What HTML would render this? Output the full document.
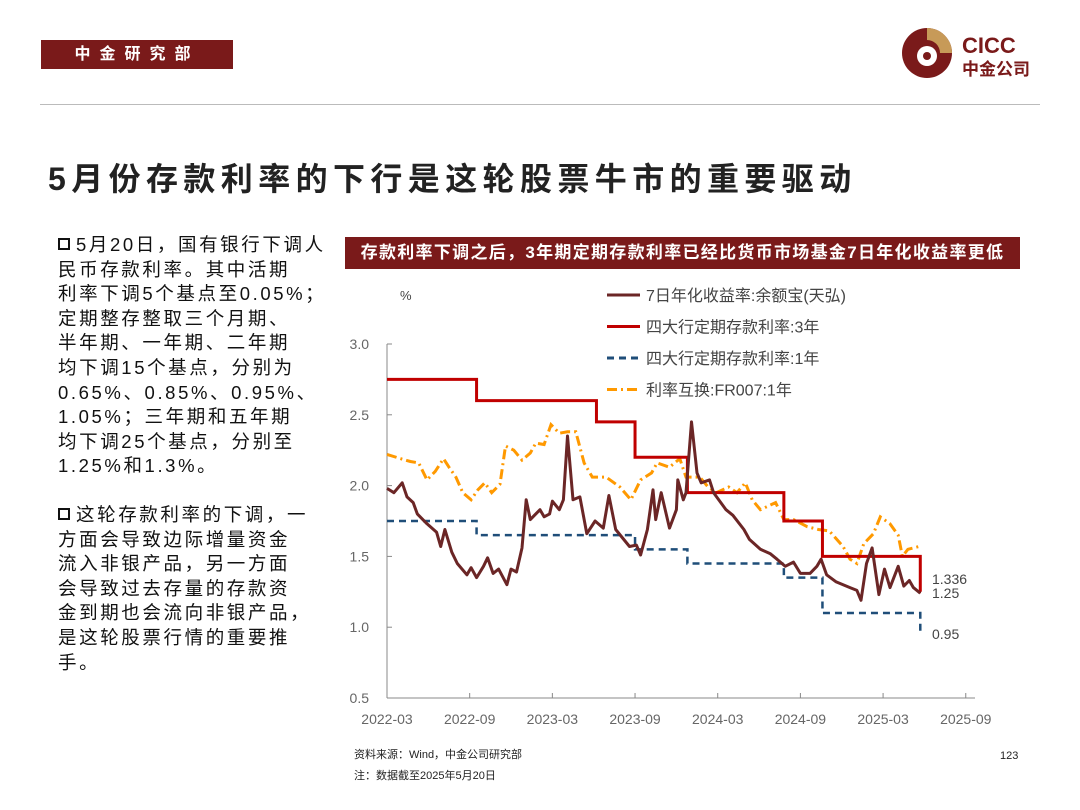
<!DOCTYPE html>
<html><head><meta charset="utf-8">
<style>
body{margin:0;background:#fff;}
#page{position:relative;width:1080px;height:810px;overflow:hidden;background:#fff;font-family:"Liberation Sans","Noto Sans CJK SC",sans-serif;}
.abs{position:absolute;}
#hdr{left:41px;top:40px;width:192px;height:29px;background:#7a1a1a;color:#fff;font-size:16px;font-weight:bold;letter-spacing:9px;line-height:29px;text-align:center;}
#rule{left:40px;top:104px;width:1000px;height:1px;background:#bbb;}
#title{left:48px;top:154px;font-size:32px;font-weight:bold;color:#222;letter-spacing:5.4px;white-space:nowrap;}
.bul{left:58px;width:290px;font-size:18.5px;letter-spacing:2.6px;line-height:24.6px;color:#111;white-space:nowrap;}
.sq{display:inline-block;width:8px;height:8px;border:2px solid #111;margin-right:6px;vertical-align:1px;}
#ctitle{left:345px;top:237px;width:675px;height:32px;background:#7a1a1a;color:#fff;font-size:17px;letter-spacing:1.3px;font-weight:bold;line-height:32px;text-align:center;white-space:nowrap;}
.foot{left:354px;font-size:11px;color:#222;}
</style></head><body>
<div id="page">
<div class="abs" id="hdr">中金研究部</div>
<div class="abs" style="left:900px;top:27px;width:150px;height:56px;">
<svg width="150" height="56">
<circle cx="27" cy="26" r="25" fill="#7a1a1a"/>
<path d="M27 1 A25 25 0 0 1 52 26 L40 26 A13 13 0 0 0 27 13 Z" fill="#c79a58"/>
<circle cx="27" cy="29" r="10" fill="#fff"/>
<circle cx="27" cy="29" r="4" fill="#7a1a1a"/>
<text x="62" y="26" font-size="22" font-weight="bold" fill="#7a1a1a" font-family="Liberation Sans">CICC</text>
<text x="62" y="48" font-size="17" font-weight="bold" fill="#7a1a1a" font-family="Noto Sans CJK SC">中金公司</text>
</svg></div>
<div class="abs" id="rule"></div>
<div class="abs" id="title">5月份存款利率的下行是这轮股票牛市的重要驱动</div>
<div class="abs bul" style="top:233px;"><span class="sq"></span>5月20日，国有银行下调人<br>民币存款利率。其中活期<br>利率下调5个基点至0.05%；<br>定期整存整取三个月期、<br>半年期、一年期、二年期<br>均下调15个基点，分别为<br>0.65%、0.85%、0.95%、<br>1.05%；三年期和五年期<br>均下调25个基点，分别至<br>1.25%和1.3%。</div>
<div class="abs bul" style="top:503px;"><span class="sq"></span>这轮存款利率的下调，一<br>方面会导致边际增量资金<br>流入非银产品，另一方面<br>会导致过去存量的存款资<br>金到期也会流向非银产品，<br>是这轮股票行情的重要推<br>手。</div>
<div class="abs" id="ctitle">存款利率下调之后，3年期定期存款利率已经比货币市场基金7日年化收益率更低</div>
<svg class="abs" id="chart" style="left:0;top:0;" width="1080" height="810"></svg>
<div class="abs foot" style="top:746px;">资料来源：Wind，中金公司研究部</div>
<div class="abs foot" style="top:767px;">注：数据截至2025年5月20日</div>
<div class="abs" style="left:1000px;top:750px;font-size:11px;color:#222;">123</div>
</div>
<script>
const yTicks=[0.5,1.0,1.5,2.0,2.5,3.0];
const xTickLabels=["2022-03","2022-09","2023-03","2023-09","2024-03","2024-09","2025-03","2025-09"];
const yebMonths=[0,0.5,1.1,1.45,1.9,2.2,2.9,3.6,3.9,4.2,4.7,5.1,5.8,6.1,6.5,7.0,7.3,7.7,8.1,8.7,9.0,9.4,9.8,10.1,10.4,10.8,11.1,11.4,11.8,12.0,12.5,12.8,13.1,13.5,14.0,14.5,15.1,15.7,16.1,16.6,17.1,17.6,18.1,18.4,18.9,19.3,19.5,19.9,20.5,21.0,21.1,21.5,21.7,22.1,22.5,22.8,23.4,23.7,24.6,25.1,25.9,26.3,27.1,27.8,28.3,28.9,29.5,30.0,30.7,31.2,31.5,31.9,32.6,33.6,34.1,34.4,34.8,35.2,35.7,36.1,36.5,37.1,37.5,37.9,38.2,38.7];
const yebValues=[1.98,1.95,2.02,1.92,1.88,1.80,1.73,1.67,1.57,1.69,1.53,1.45,1.37,1.42,1.35,1.43,1.49,1.38,1.41,1.30,1.41,1.39,1.56,1.90,1.76,1.80,1.83,1.78,1.80,1.89,1.83,1.90,2.35,1.90,1.92,1.66,1.75,1.70,1.93,1.69,1.63,1.57,1.58,1.51,1.69,1.97,1.76,1.95,1.70,1.83,2.04,1.90,1.95,2.45,2.09,2.02,2.04,1.95,1.83,1.79,1.69,1.62,1.55,1.52,1.48,1.43,1.46,1.38,1.38,1.43,1.48,1.37,1.32,1.28,1.26,1.19,1.45,1.56,1.23,1.41,1.28,1.43,1.29,1.33,1.28,1.24];
const frMonths=[0,1,1.7,2.3,2.9,3.5,4.1,4.5,5.0,5.5,6.1,6.6,7.1,7.6,8.2,8.6,9.2,9.8,10.4,10.8,11.4,11.9,12.5,13.1,13.7,14.3,14.9,15.9,16.9,17.7,18.4,19.2,19.6,20.5,21.25,21.7,22.2,22.7,23.3,23.9,24.8,25.4,26.0,26.5,27.1,28.2,28.8,29.5,30.5,31.3,32.1,33.1,33.6,34.1,34.6,35.3,35.8,36.5,37.1,37.4,37.8,38.6];
const frValues=[2.22,2.19,2.17,2.16,2.04,2.10,2.19,2.13,2.06,1.95,1.90,1.97,2.02,1.95,2.01,2.28,2.25,2.18,2.23,2.30,2.29,2.43,2.37,2.38,2.38,2.16,2.06,2.06,1.99,1.90,2.04,2.09,2.16,2.13,2.19,2.06,2.06,2.06,1.99,1.95,1.99,1.95,2.02,1.90,1.83,1.88,1.76,1.76,1.71,1.69,1.68,1.57,1.48,1.45,1.59,1.66,1.78,1.73,1.65,1.50,1.55,1.57];
const stepMonths=[0,6.5,15.2,18,21.8,28.8,31.6,38.7,38.75];
const dep3yValues=[2.75,2.60,2.45,2.20,1.95,1.75,1.50,1.25,1.25];
const dep1yValues=[1.75,1.65,1.65,1.55,1.45,1.35,1.10,0.95,0.95];
const endLabels=["1.336","1.25","0.95"];

const NS="http://www.w3.org/2000/svg";
const svg=document.getElementById('chart');
const X0=387,PXM=13.78,Y3=344,PXV=141.6;
const xs=m=>X0+m*PXM;
const ys=v=>Y3+(3-v)*PXV;
function mk(tag,attrs){const e=document.createElementNS(NS,tag);for(const k in attrs)e.setAttribute(k,attrs[k]);svg.appendChild(e);return e;}
let ax=mk('line',{x1:X0,y1:ys(3),x2:X0,y2:ys(0.5),stroke:'#888','stroke-width':1});


let bx=mk('line',{x1:X0,y1:ys(0.5),x2:975,y2:ys(0.5),stroke:'#888','stroke-width':1});


yTicks.forEach(v=>{
 let t=mk('line',{x1:X0,y1:ys(v),x2:X0+5,y2:ys(v),stroke:'#888'});
 
 
 let l=mk('text',{x:X0-18,y:ys(v)+5,'text-anchor':'end','font-size':14,fill:'#666','font-family':'Liberation Sans'});
 l.textContent=v.toFixed(1);
 
 
});
xTickLabels.forEach((s,i)=>{
 let x=xs(i*6);
 let t=mk('line',{x1:x,y1:ys(0.5),x2:x,y2:ys(0.5)-5,stroke:'#888'});
 
 
 let l=mk('text',{x:x,y:ys(0.5)+26,'text-anchor':'middle','font-size':14,fill:'#666','font-family':'Liberation Sans'});
 l.textContent=s;
 
 
});
let pu=mk('text',{x:400,y:300,'font-size':13,fill:'#444','font-family':'Liberation Sans'});
pu.textContent='%';


function stepPath(ms,vs){let d='M'+xs(ms[0])+' '+ys(vs[0]);for(let i=1;i<ms.length;i++){d+=' H'+xs(ms[i])+' V'+ys(vs[i]);}return d;}
function linePath(ms,vs){return ms.map((m,i)=>(i?'L':'M')+xs(m).toFixed(1)+' '+ys(vs[i]).toFixed(1)).join(' ');}
let s1=mk('path',{d:stepPath(stepMonths,dep1yValues),fill:'none',stroke:'#1f4e79','stroke-width':2.5,'stroke-dasharray':'7,5'});


let s2=mk('path',{d:linePath(frMonths,frValues),fill:'none',stroke:'#ff9900','stroke-width':3,'stroke-dasharray':'10,4,2,4'});


let s3=mk('path',{d:stepPath(stepMonths,dep3yValues),fill:'none',stroke:'#c00000','stroke-width':3});


let s4=mk('path',{d:linePath(yebMonths,yebValues),fill:'none',stroke:'#6b2626','stroke-width':3,'stroke-linejoin':'round'});


const ly=[579,593,634];
endLabels.forEach((s,i)=>{
 let l=mk('text',{x:932,y:ly[i]+5,'font-size':14,fill:'#444','font-family':'Liberation Sans'});
 l.textContent=s;
 
 
});
const legNames=["7日年化收益率:余额宝(天弘)","四大行定期存款利率:3年","四大行定期存款利率:1年","利率互换:FR007:1年"];
const legStyles=[{stroke:'#6b2626'},{stroke:'#c00000'},{stroke:'#1f4e79','stroke-dasharray':'7,5'},{stroke:'#ff9900','stroke-dasharray':'10,4,2,4'}];
legNames.forEach((n,i)=>{
 let y=295+i*31.5;
 let a=Object.assign({x1:607,y1:y,x2:640,y2:y,'stroke-width':3},legStyles[i]);
 let l=mk('line',a);
 
 
 let t=mk('text',{x:646,y:y+6,'font-size':16,fill:'#444','font-family':'Liberation Sans, Noto Sans CJK SC, sans-serif'});
 t.textContent=n;
 
 
});
</script>
</body></html>
